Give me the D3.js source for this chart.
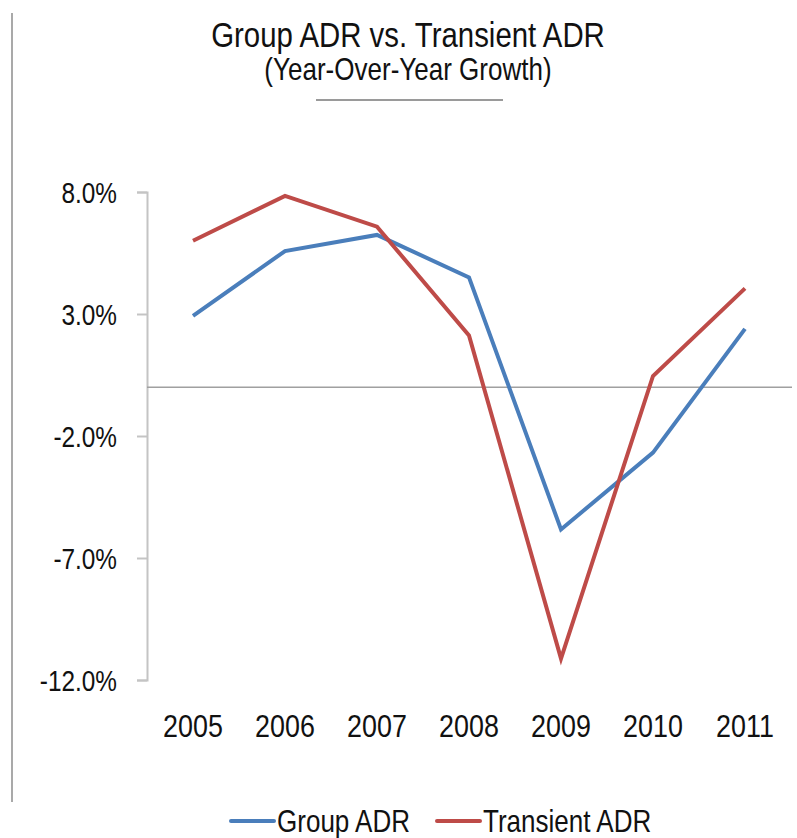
<!DOCTYPE html>
<html>
<head>
<meta charset="utf-8">
<script src="https://cdn.jsdelivr.net/npm/d3@7"></script>
<style>
  body { margin: 0; background: #fff; }
  text { font-family: "Liberation Sans", Arial, sans-serif; fill: #111; }
</style>
</head>
<body>
<script>
// chart data (year-over-year growth, %)
const years = ["2005", "2006", "2007", "2008", "2009", "2010", "2011"];
const groupADR = [2.92, 5.58, 6.24, 4.5, -5.83, -2.68, 2.39];
const transientADR = [6.0, 7.84, 6.58, 2.12, -11.12, 0.46, 4.05];
const yTicks = [8, 3, -2, -7, -12];
const seriesNames = ["Group ADR", "Transient ADR"];

const width = 797, height = 838;
const colors = ["#4a7ebb", "#be4b48"];
// the original uses a condensed face, squeeze the text horizontally
const sx = 0.84;

const svg = d3.select("body").append("svg")
    .attr("width", width)
    .attr("height", height);

function narrowText(parent, x, y, size, anchor, str) {
    return parent.append("text")
        .attr("transform", `translate(${x},${y}) scale(${sx},1)`)
        .attr("text-anchor", anchor)
        .style("font-size", size + "px")
        .text(str);
}

// left frame line
svg.append("line")
    .attr("x1", 12).attr("x2", 12)
    .attr("y1", 13).attr("y2", 802)
    .attr("stroke", "#8c8c8c").attr("stroke-width", 1.5);

// titles
narrowText(svg, 408, 47, 35, "middle", "Group ADR vs. Transient ADR");
narrowText(svg, 408, 80, 31, "middle", "(Year-Over-Year Growth)");

svg.append("line")
    .attr("x1", 316).attr("x2", 503)
    .attr("y1", 100).attr("y2", 100)
    .attr("stroke", "#9a9a9a").attr("stroke-width", 2);

const x = d3.scaleBand()
    .domain(years)
    .range([147, 791]);

const y = d3.scaleLinear()
    .domain([-12, 8])
    .range([680, 192]);

// y axis
const yAxis = svg.append("g")
    .attr("transform", "translate(147,0)")
    .call(d3.axisLeft(y)
        .tickValues(yTicks)
        .tickSize(10)
        .tickFormat(d => d.toFixed(1) + "%"));

yAxis.select(".domain").attr("stroke", "#c4c4c4").attr("stroke-width", 2);
yAxis.selectAll(".tick line").attr("stroke", "#c4c4c4").attr("stroke-width", 2);
yAxis.selectAll(".tick text")
    .style("font-size", "29px")
    .attr("fill", "#111")
    .attr("x", -30 / sx)
    .attr("dy", "0.36em")
    .attr("transform", `scale(${sx},1)`);

// zero line
svg.append("line")
    .attr("x1", 147).attr("x2", 792)
    .attr("y1", y(0)).attr("y2", y(0))
    .attr("stroke", "#a0a0a0").attr("stroke-width", 1.5);

// x labels
const xAxis = svg.append("g")
    .attr("transform", "translate(0,705)")
    .call(d3.axisBottom(x).tickSize(0).tickPadding(0));
xAxis.select(".domain").remove();
xAxis.selectAll(".tick text")
    .style("font-size", "32px")
    .attr("fill", "#111")
    .attr("dy", "1em")
    .attr("transform", `scale(${sx},1)`);

// lines
const line = d3.line()
    .x((d, i) => x(years[i]) + x.bandwidth() / 2)
    .y(d => y(d));

[groupADR, transientADR].forEach((s, k) => {
    svg.append("path")
        .datum(s)
        .attr("fill", "none")
        .attr("stroke", colors[k])
        .attr("stroke-width", 4)
        .attr("d", line);
});

// legend
const legendX = [231, 437];
seriesNames.forEach((name, k) => {
    const g = svg.append("g").attr("transform", `translate(${legendX[k]},821)`);
    g.append("line")
        .attr("x1", 0).attr("x2", 43)
        .attr("stroke", colors[k]).attr("stroke-width", 4)
        .attr("stroke-linecap", "round");
    narrowText(g, 46, 11, 31, "start", name);
});
</script>
</body>
</html>
